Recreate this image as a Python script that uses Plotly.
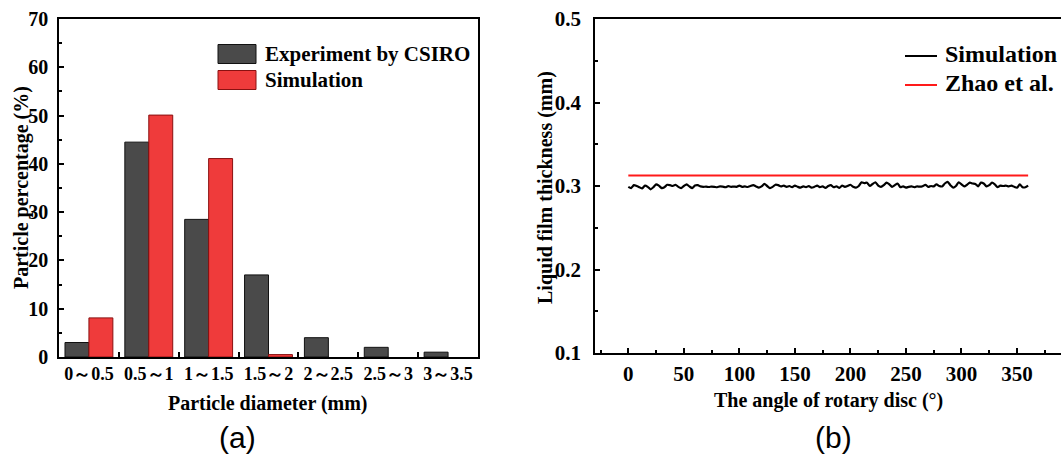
import plotly.graph_objects as go

# ---------------- data: panel (a) ----------------
categories = ["0～0.5", "0.5～1", "1～1.5", "1.5～2", "2～2.5", "2.5～3", "3～3.5"]
experiment = [3.0, 44.5, 28.5, 17.0, 4.0, 2.0, 1.0]
simulation_pct = [8.1, 50.1, 41.1, 0.5, 0.0, 0.0, 0.0]

# ---------------- data: panel (b) ----------------
angles = [0, 2.5, 5, 7.5, 10, 12.5, 15, 17.5, 20, 22.5, 25, 27.5, 30, 32.5, 35, 37.5,
          40, 42.5, 45, 47.5, 50, 52.5, 55, 57.5, 60, 62.5, 65, 67.5, 70, 72.5, 75, 77.5,
          80, 82.5, 85, 87.5, 90, 92.5, 95, 97.5, 100, 102.5, 105, 107.5, 110, 112.5, 115, 117.5,
          120, 122.5, 125, 127.5, 130, 132.5, 135, 137.5, 140, 142.5, 145, 147.5, 150, 152.5, 155, 157.5,
          160, 162.5, 165, 167.5, 170, 172.5, 175, 177.5, 180, 182.5, 185, 187.5, 190, 192.5, 195, 197.5,
          200, 202.5, 205, 207.5, 210, 212.5, 215, 217.5, 220, 222.5, 225, 227.5, 230, 232.5, 235, 237.5,
          240, 242.5, 245, 247.5, 250, 252.5, 255, 257.5, 260, 262.5, 265, 267.5, 270, 272.5, 275, 277.5,
          280, 282.5, 285, 287.5, 290, 292.5, 295, 297.5, 300, 302.5, 305, 307.5, 310, 312.5, 315, 317.5,
          320, 322.5, 325, 327.5, 330, 332.5, 335, 337.5, 340, 342.5, 345, 347.5, 350, 352.5, 355, 357.5, 360]
film_sim = [0.2990, 0.2975, 0.3010, 0.3000, 0.2985, 0.2970, 0.3005, 0.2990, 0.2960, 0.2985, 0.3020, 0.3005, 0.2975, 0.2985, 0.3015, 0.3010,
            0.3000, 0.3015, 0.2990, 0.2975, 0.3000, 0.3020, 0.2995, 0.2975, 0.3005, 0.3010, 0.2995, 0.2990, 0.2992, 0.2988, 0.2993, 0.2990,
            0.2985, 0.2995, 0.2992, 0.2985, 0.2998, 0.2990, 0.2993, 0.2990, 0.3005, 0.2990, 0.2995, 0.2988, 0.3000, 0.3010, 0.2995, 0.2980,
            0.2995, 0.3025, 0.3000, 0.2975, 0.2990, 0.3015, 0.3010, 0.2995, 0.3005, 0.2990, 0.3000, 0.2985, 0.3005, 0.2990, 0.2980, 0.2995,
            0.2985, 0.3000, 0.2980, 0.2990, 0.3005, 0.2985, 0.2995, 0.2978, 0.3000, 0.3010, 0.2985, 0.2995, 0.2978, 0.3005, 0.2990, 0.3000,
            0.3015, 0.2990, 0.2980, 0.3000, 0.3045, 0.3035, 0.3040, 0.3000, 0.3025, 0.3045, 0.3005, 0.2990, 0.3010, 0.3040, 0.3020, 0.2990,
            0.3010, 0.3030, 0.2985, 0.2995, 0.2980, 0.2990, 0.2995, 0.2985, 0.2995, 0.2992, 0.2998, 0.3015, 0.2990, 0.3000, 0.2995, 0.3020,
            0.3000, 0.2995, 0.3030, 0.3050, 0.3010, 0.2980, 0.3000, 0.3045, 0.3020, 0.2995, 0.3015, 0.3040, 0.3030, 0.3025, 0.2995, 0.3040,
            0.3030, 0.2995, 0.3010, 0.3040, 0.3020, 0.2985, 0.3005, 0.3000, 0.3005, 0.2995, 0.3005, 0.2990, 0.2980, 0.3020, 0.2985, 0.2985, 0.3005]
zhao_angles = [0, 360]
zhao_values = [0.3125, 0.3125]

y_ticks_a = [0, 10, 20, 30, 40, 50, 60, 70]
y_ticks_b = [0.1, 0.2, 0.3, 0.4, 0.5]
x_ticks_b = [0, 50, 100, 150, 200, 250, 300, 350]

GREY = "#4a4a4a"
RED = "#ef3b3b"
SERIF = "Liberation Serif"

fig = go.Figure()

fig.add_trace(go.Bar(x=categories, y=experiment, name="Experiment by CSIRO",
                     marker=dict(color=GREY, line=dict(color="#111111", width=1)),
                     xaxis="x", yaxis="y", showlegend=False))
fig.add_trace(go.Bar(x=categories, y=simulation_pct, name="Simulation",
                     marker=dict(color=RED,
                                 line=dict(color="#8a1010",
                                           width=[1 if v > 0 else 0 for v in simulation_pct])),
                     xaxis="x", yaxis="y", showlegend=False))

fig.add_trace(go.Scatter(x=angles, y=film_sim, mode="lines", name="Simulation",
                         line=dict(color="black", width=2.2, shape="spline", smoothing=0.6),
                         xaxis="x2", yaxis="y2", showlegend=False))
fig.add_trace(go.Scatter(x=zhao_angles, y=zhao_values, mode="lines", name="Zhao et al.",
                         line=dict(color="#ff1a1a", width=2),
                         xaxis="x2", yaxis="y2", showlegend=False))

W, H = 1061, 457
def px(x):
    return x / W
def py(y):
    return 1 - y / H

def tf(size):
    return dict(family=SERIF, size=size, color="black", weight="bold")

axis_common = dict(showgrid=False, zeroline=False, showline=True, linecolor="black",
                   linewidth=1.5, mirror=True, ticks="inside", tickcolor="black",
                   ticklen=5, tickwidth=1.5, automargin=False, tickangle=0)

fig.update_layout(
    width=W, height=H, margin=dict(l=0, r=0, t=0, b=0, autoexpand=False),
    paper_bgcolor="white", plot_bgcolor="white",
    barmode="group", bargap=0.2, bargroupgap=0,
    xaxis=dict(domain=[px(59), px(478)], anchor="y", type="category",
               tickson="boundaries", ticklabelstandoff=0, tickfont=tf(18), **axis_common),
    yaxis=dict(domain=[py(357), py(19)], anchor="x", range=[0, 70],
               tickvals=y_ticks_a, ticklabelstandoff=5, tickfont=tf(20),
               minor=dict(dtick=5, ticks="inside", ticklen=3, tickcolor="black", tickwidth=1.5),
               **axis_common),
    xaxis2=dict(domain=[px(595), 1.0], anchor="y2", range=[-30, 389.6],
                tickvals=x_ticks_b, ticklabelstandoff=1, tickfont=tf(21),
                minor=dict(dtick=25, tick0=0, ticks="inside", ticklen=3, tickcolor="black", tickwidth=1.5),
                **axis_common),
    yaxis2=dict(domain=[py(353), py(19)], anchor="x2", range=[0.1, 0.5],
                tickvals=y_ticks_b, ticklabelstandoff=8, tickfont=tf(21),
                minor=dict(dtick=0.05, tick0=0.1, ticks="inside", ticklen=3, tickcolor="black", tickwidth=1.5),
                **{**axis_common, "mirror": False}),
)

titlefont = tf(20)
ann = [
    dict(x=px(268), y=py(403), text="Particle diameter (mm)"),
    dict(x=px(21), y=py(188), text="Particle percentage (%)", textangle=-90),
    dict(x=px(828), y=py(400), text="The angle of rotary disc (°)"),
    dict(x=px(545), y=py(188), text="Liquid film thickness (mm)", textangle=-90),
]
annotations = []
for a in ann:
    a.update(xref="paper", yref="paper", showarrow=False, font=titlefont,
             xanchor="center", yanchor="middle")
    annotations.append(a)

# panel labels
for txt, xx in [("(a)", 237), ("(b)", 833)]:
    annotations.append(dict(x=px(xx), y=py(437), xref="paper", yref="paper", text=txt,
                            showarrow=False, xanchor="center", yanchor="middle",
                            font=dict(family="Liberation Sans", size=30, color="black")))

shapes = []
# legend (a)
for i, (name, col, lc) in enumerate([("Experiment by CSIRO", GREY, "#111111"),
                                     ("Simulation", RED, "#8a1010")]):
    yc = 54 + i * 26
    shapes.append(dict(type="rect", xref="paper", yref="paper",
                       x0=px(218), x1=px(256), y0=py(yc + 9.5), y1=py(yc - 9.5),
                       fillcolor=col, line=dict(color=lc, width=1)))
    annotations.append(dict(x=px(263), y=py(yc), xref="paper", yref="paper", text=name,
                            showarrow=False, xanchor="left", yanchor="middle", font=tf(21)))
# legend (b)
for i, (name, col) in enumerate([("Simulation", "black"), ("Zhao et al.", "#ff1a1a")]):
    shapes.append(dict(type="line", xref="paper", yref="paper",
                       x0=px(905), x1=px(937), y0=py(56 + i * 29), y1=py(56 + i * 29),
                       line=dict(color=col, width=2)))
    annotations.append(dict(x=px(943), y=py(54 + i * 29), xref="paper", yref="paper", text=name,
                            showarrow=False, xanchor="left", yanchor="middle", font=tf(24)))

fig.update_layout(annotations=annotations, shapes=shapes)

fig.write_html("out.html")
